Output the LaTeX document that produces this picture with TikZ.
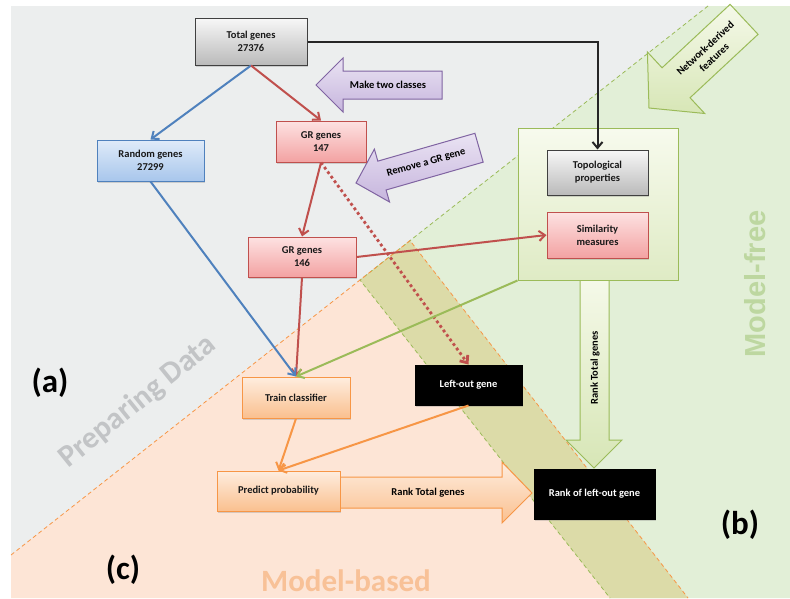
\documentclass[tikz,border=0pt]{standalone}
\usepackage{fontspec}
\setmainfont{Carlito}
\newfontfamily\arialfont{Liberation Sans}
\usetikzlibrary{arrows.meta,shadows}
\definecolor{bggrey}{HTML}{ECEEEE}
\definecolor{bggreen}{HTML}{E2EFD7}
\definecolor{bgorange}{HTML}{FDE5D6}
\definecolor{bgolive}{HTML}{DCDBA8}
\definecolor{dgreen}{HTML}{9BBB59}
\definecolor{dorange}{HTML}{F79646}
\definecolor{dred}{HTML}{C0504D}
\definecolor{dblue}{HTML}{4F81BD}
\definecolor{dpurple}{HTML}{8064A2}
\definecolor{bluetop}{HTML}{DFEBF9}
\definecolor{bluebot}{HTML}{A8C6EC}
\definecolor{redtop}{HTML}{FDE2E2}
\definecolor{redbot}{HTML}{F3A2A2}
\definecolor{oratop}{HTML}{FEEDDF}
\definecolor{orabot}{HTML}{FAC08F}
\definecolor{gretop}{HTML}{F5F9E9}
\definecolor{grebot}{HTML}{D7E6B6}
\definecolor{purtop}{HTML}{EAE3F3}
\definecolor{purbot}{HTML}{C6B5DD}
\definecolor{preptxt}{HTML}{C2C4C6}
\definecolor{freetxt}{HTML}{BDD7A0}
\definecolor{basedtxt}{HTML}{F8C197}
\begin{document}
\begin{tikzpicture}[x=1pt,y=-1pt,
  every node/.style={font=\bfseries\fontsize{10.5}{13}\selectfont},
  nbox/.style={draw, line width=1pt, align=center, inner sep=1pt, text=black!90,
     drop shadow={opacity=0.3, shadow xshift=1.2pt, shadow yshift=-1.5pt}},
  greybox/.style={nbox, draw=black!75, top color=black!3, bottom color=black!27},
  bluebox/.style={nbox, draw=dblue, top color=bluetop, bottom color=bluebot},
  redbox/.style={nbox, draw=dred, top color=redtop, bottom color=redbot},
  orabox/.style={nbox, draw=dorange, top color=oratop, bottom color=orabot},
  blackbox/.style={nbox, draw=black, fill=black, text=white},
  featbox/.style={draw=dgreen, line width=1pt, top color=gretop!80!white, bottom color=grebot!80!white},
  parrow/.style={draw=dpurple, line width=1pt, top color=purtop, bottom color=purbot},
  garrow/.style={draw=dgreen, line width=1pt, top color=gretop, bottom color=grebot},
  oarrow/.style={draw=dorange, line width=1pt, top color=oratop, bottom color=orabot},
  regline/.style={line width=0.8pt, dash pattern=on 4pt off 3pt},
  conn/.style={line width=2pt, -{Straight Barb[length=6pt,width=10pt]}},
  dotconn/.style={line width=2.8pt, dash pattern=on 2.8pt off 2.8pt, -{Straight Barb[length=6pt,width=10pt]}},
  bigtxt/.style={font=\bfseries\fontsize{31}{31}\selectfont, inner sep=0pt},
  lettxt/.style={font=\bfseries\fontsize{33}{33}\selectfont, text=black}
]
\useasboundingbox (0,0) rectangle (790,598);
\fill[white] (0,0) rectangle (790,598);
% regions
\fill[bggrey] (11,6) rectangle (790,598);
\fill[bggreen] (360,280) -- (708,6) -- (790,6) -- (790,598) -- (610,598) -- cycle;
\fill[bgorange] (11,555) -- (410,240.6) -- (688,598) -- (11,598) -- cycle;
\fill[bgolive] (360,280) -- (410,240.6) -- (688,598) -- (610,598) -- cycle;
\draw[regline, dgreen] (708,6) -- (360,280) -- (610,598);
\draw[regline, dorange] (11,555) -- (410,240.6) -- (688,598);

% big labels
\node[bigtxt, text=preptxt, rotate=39] (prep) at (138,402) {Preparing Data};
\node[font=\arialfont\bfseries\fontsize{29}{29}\selectfont, inner sep=0pt, text=freetxt, rotate=90] (free) at (755,284) {Model-free};
\node[bigtxt, text=basedtxt, anchor=base] (based) at (346,591) {Model-based};
\node[lettxt] (la) at (50,383) {(a)};
\node[lettxt] (lb) at (740,525) {(b)};
\node[lettxt] (lc) at (123,570) {(c)};

% purple arrows
\shade[parrow] (316,85) -- (343,58) -- (343,71) -- (442,71) -- (442,99) -- (343,99) -- (343,112) -- cycle;
\node (mtc) at (388,85) {Make two classes};
\begin{scope}[shift={(356,183)}, rotate=16]
\shade[parrow] (0,0) -- (27,-27.5) -- (27,-15) -- (128,-15) -- (128,15) -- (27,15) -- (27,27.5) -- cycle;
\node[transform shape] (rgr) at (73,0) {Remove a GR gene};
\end{scope}
% network-derived arrow
\begin{scope}[shift={(649,108)}, rotate=43]
\shade[garrow] (0,0) -- (37,-42) -- (37,-20.5) -- (130,-20.5) -- (130,20.5) -- (37,20.5) -- (37,42) -- cycle;
\node[transform shape, align=center] (ndf) at (82,1) {Network-derived\\features};
\end{scope}

% big block arrows
\shade[garrow] (580,278) -- (580,440) -- (566,440) -- (594,468) -- (622,440) -- (609,440) -- (609,278) -- cycle;
\node[rotate=90] (rtg2) at (595,368) {Rank Total genes};
\shade[oarrow] (336,477) -- (502,477) -- (502,462) -- (532,493) -- (502,523) -- (502,508) -- (336,508) -- cycle;
\node (rtg1) at (428,493) {Rank Total genes};

% feature box
\node[featbox, minimum width=160pt, minimum height=152pt] (feat) at (598,204) {};

% boxes
\node[greybox, minimum width=112pt, minimum height=47pt] (total) at (251,41.5) {Total genes\\27376};
\node[bluebox, minimum width=107pt, minimum height=41pt] (random) at (150.5,160.5) {Random genes\\27299};
\node[redbox, minimum width=90pt, minimum height=41pt] (gr147) at (321,141.5) {GR genes\\147};
\node[redbox, minimum width=108pt, minimum height=40pt] (gr146) at (302,257) {GR genes\\146};
\node[greybox, minimum width=101pt, minimum height=45pt] (topo) at (597.5,172.5) {Topological\\properties};
\node[redbox, minimum width=101pt, minimum height=46pt] (sim) at (597.5,235) {Similarity\\measures};
\node[blackbox, minimum width=107pt, minimum height=40pt] (leftout) at (468.5,385) {Left-out gene};
\node[blackbox, minimum width=121pt, minimum height=50pt] (rankleft) at (594.5,494) {Rank of left-out gene};
\node[orabox, minimum width=108pt, minimum height=41pt] (train) at (296,397.5) {Train classifier};
\node[orabox, minimum width=123pt, minimum height=40pt] (predict) at (278.5,491) {Predict probability};

% connectors
\draw[conn, dblue] (total.south) -- (random.north);
\draw[conn, dred] (total.south) -- (gr147.north);
\draw[conn, black!85] (total.east) -| (topo.north);
\draw[conn, dred] (gr147.south) -- (gr146.north);
\draw[dotconn, dred] (gr147.south) -- (leftout.north);
\draw[conn, dred] (gr146.east) -- (sim.west);
\draw[conn, dred] (gr146.south) -- (train.north);
\draw[conn, dblue] (random.south) -- (train.north);
\draw[conn, dgreen] (feat.south west) -- (train.north);
\draw[conn, dorange] (train.south) -- (predict.north);
\draw[conn, dorange] (leftout.south) -- (predict.north);
\end{tikzpicture}
\end{document}
